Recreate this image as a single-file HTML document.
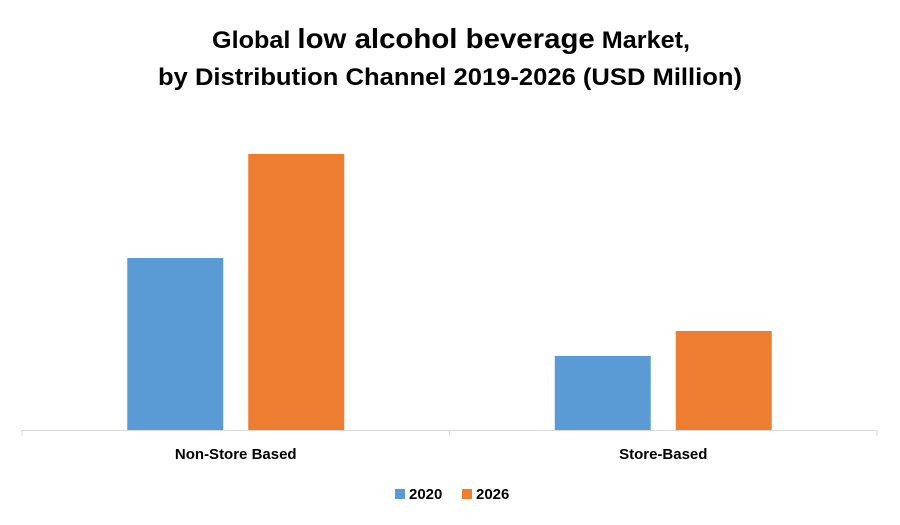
<!DOCTYPE html>
<html><head><meta charset="utf-8"><style>
body{margin:0;background:#fff;}
svg{display:block;font-family:"Liberation Sans",sans-serif;}
</style></head><body>
<svg id="chart" width="900" height="525" viewBox="0 0 900 525" xmlns="http://www.w3.org/2000/svg">
<rect width="900" height="525" fill="#fff"/>
<text x="451" y="48" text-anchor="middle" font-weight="bold" font-size="24" fill="#000" textLength="478" lengthAdjust="spacingAndGlyphs"><tspan font-size="24">Global </tspan><tspan font-size="28">low alcohol beverage</tspan><tspan font-size="24"> Market,</tspan></text>
<text x="450" y="85" text-anchor="middle" font-weight="bold" font-size="24" fill="#000" textLength="584" lengthAdjust="spacingAndGlyphs">by Distribution Channel 2019-2026 (USD Million)</text>
<g id="bars"></g>
<line x1="22" y1="430.5" x2="877" y2="430.5" stroke="#d9d9d9" stroke-width="1"/>
<g id="ticks"></g>
<g id="legend"></g>
</svg>
<script>
const categories = ["Non-Store Based", "Store-Based"];
const seriesNames = ["2020", "2026"];
const values2020 = [172, 74];
const values2026 = [276, 99];
const colors = ["#5b9bd5", "#ed7d31"];
const NS = "http://www.w3.org/2000/svg";
const x0 = 22, x1 = 877, yBase = 430, yMax = 300, plotH = 300;
const catW = (x1 - x0) / categories.length;
function yScale(v){ return yBase - v / yMax * plotH; }
const barW = 96, gap = 25;
const bars = document.getElementById('bars');
const ticks = document.getElementById('ticks');
[values2020, values2026].forEach((vals, s) => {
  vals.forEach((v, i) => {
    const cx = x0 + catW * (i + 0.5);
    const bx = cx - gap/2 - barW + s * (barW + gap);
    const r = document.createElementNS(NS, 'rect');
    
    
    r.setAttribute('x', bx); r.setAttribute('y', yScale(v));
    r.setAttribute('width', barW); r.setAttribute('height', yBase - yScale(v));
    r.setAttribute('fill', colors[s]);
    bars.appendChild(r);
  });
});
for (let i = 0; i <= categories.length; i++) {
  const tx = x0 + catW * i;
  const t = document.createElementNS(NS, 'line');
  
  
  t.setAttribute('x1', tx); t.setAttribute('x2', tx);
  t.setAttribute('y1', 430); t.setAttribute('y2', 436);
  t.setAttribute('stroke', '#d9d9d9');
  ticks.appendChild(t);
}
categories.forEach((c, i) => {
  const t = document.createElementNS(NS, 'text');
  
  
  t.setAttribute('x', x0 + catW * (i + 0.5));
  t.setAttribute('y', 459);
  t.setAttribute('text-anchor', 'middle');
  t.setAttribute('font-size', '15');
  t.setAttribute('font-weight', 'bold');
  t.setAttribute('fill', '#000');
  t.textContent = c;
  ticks.appendChild(t);
});
const legend = document.getElementById('legend');
const legX = [395, 462];
seriesNames.forEach((n, s) => {
  const r = document.createElementNS(NS, 'rect');
  
  
  r.setAttribute('x', legX[s]); r.setAttribute('y', 489);
  r.setAttribute('width', 10); r.setAttribute('height', 10);
  r.setAttribute('fill', colors[s]);
  legend.appendChild(r);
  const t = document.createElementNS(NS, 'text');
  
  
  t.setAttribute('x', legX[s] + 14); t.setAttribute('y', 499);
  t.setAttribute('font-size', '15'); t.setAttribute('font-weight', 'bold');
  t.setAttribute('fill', '#000');
  t.textContent = n;
  legend.appendChild(t);
});
</script>
</body></html>
